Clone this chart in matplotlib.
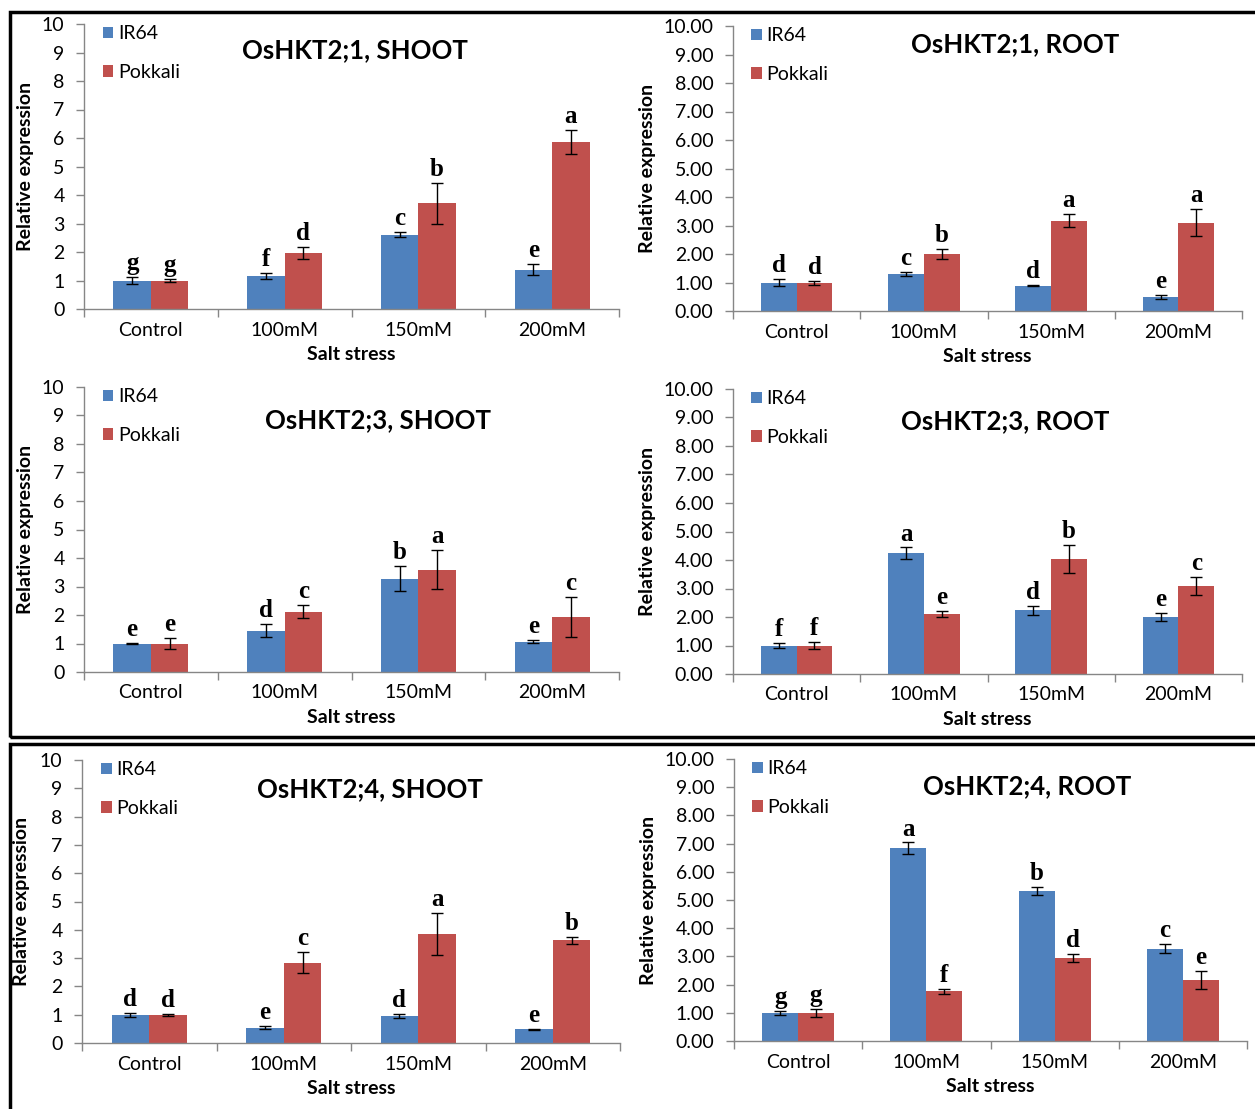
import numpy as np
import matplotlib.pyplot as plt
from matplotlib.patches import Rectangle, Patch

categories = ["Control", "100mM", "150mM", "200mM"]
series = ["IR64", "Pokkali"]
colors = ["#4F81BD", "#C0504D"]

# OsHKT2;1 shoot
hkt21_shoot_ir64 = [1.00, 1.16, 2.61, 1.38]
hkt21_shoot_ir64_err = [0.11, 0.12, 0.10, 0.20]
hkt21_shoot_pok = [1.00, 1.96, 3.71, 5.86]
hkt21_shoot_pok_err = [0.06, 0.20, 0.72, 0.42]
hkt21_shoot_let_ir64 = ["g", "f", "c", "e"]
hkt21_shoot_let_pok = ["g", "d", "b", "a"]

# OsHKT2;1 root
hkt21_root_ir64 = [0.99, 1.29, 0.88, 0.49]
hkt21_root_ir64_err = [0.12, 0.07, 0.02, 0.07]
hkt21_root_pok = [0.99, 2.00, 3.17, 3.10]
hkt21_root_pok_err = [0.07, 0.16, 0.22, 0.48]
hkt21_root_let_ir64 = ["d", "c", "d", "e"]
hkt21_root_let_pok = ["d", "b", "a", "a"]

# OsHKT2;3 shoot
hkt23_shoot_ir64 = [1.00, 1.45, 3.27, 1.07]
hkt23_shoot_ir64_err = [0.02, 0.23, 0.44, 0.04]
hkt23_shoot_pok = [1.00, 2.12, 3.59, 1.93]
hkt23_shoot_pok_err = [0.20, 0.23, 0.69, 0.69]
hkt23_shoot_let_ir64 = ["e", "d", "b", "e"]
hkt23_shoot_let_pok = ["e", "c", "a", "c"]

# OsHKT2;3 root
hkt23_root_ir64 = [1.00, 4.24, 2.23, 2.00]
hkt23_root_ir64_err = [0.09, 0.20, 0.16, 0.15]
hkt23_root_pok = [1.00, 2.11, 4.04, 3.09]
hkt23_root_pok_err = [0.13, 0.10, 0.48, 0.31]
hkt23_root_let_ir64 = ["f", "a", "d", "e"]
hkt23_root_let_pok = ["f", "e", "b", "c"]

# OsHKT2;4 shoot
hkt24_shoot_ir64 = [0.99, 0.54, 0.95, 0.48]
hkt24_shoot_ir64_err = [0.08, 0.05, 0.08, 0.01]
hkt24_shoot_pok = [0.99, 2.84, 3.85, 3.63]
hkt24_shoot_pok_err = [0.02, 0.38, 0.73, 0.12]
hkt24_shoot_let_ir64 = ["d", "e", "d", "e"]
hkt24_shoot_let_pok = ["d", "c", "a", "b"]

# OsHKT2;4 root
hkt24_root_ir64 = [0.99, 6.84, 5.32, 3.28]
hkt24_root_ir64_err = [0.06, 0.20, 0.15, 0.15]
hkt24_root_pok = [0.99, 1.77, 2.95, 2.17]
hkt24_root_pok_err = [0.13, 0.09, 0.14, 0.32]
hkt24_root_let_ir64 = ["g", "a", "b", "c"]
hkt24_root_let_pok = ["g", "f", "d", "e"]

sans = "Lato"
serif = "Liberation Serif"
grey = "#868686"
W, H = 1255, 1109

fig = plt.figure(figsize=(W / 100, H / 100), dpi=100)


def px_axes(left, top, right, bottom):
    # pixel box -> figure fraction
    return fig.add_axes([left / W, 1 - bottom / H, (right - left) / W, (bottom - top) / H])


def draw_panel(ax, ir, ir_err, pok, pok_err, let_ir, let_pok, title, title_pos, fmt):
    x = np.arange(len(categories))
    bw = 0.28
    for vals, errs, lets, off, c in [(ir, ir_err, let_ir, -bw / 2, colors[0]),
                                     (pok, pok_err, let_pok, bw / 2, colors[1])]:
        ax.bar(x + off, vals, bw, color=c, edgecolor="none", zorder=2)
        ax.errorbar(x + off, vals, yerr=errs, fmt="none", ecolor="black",
                    elinewidth=1, capsize=4, capthick=1, zorder=3)
        for xi, v, e, l in zip(x + off, vals, errs, lets):
            ax.annotate(l, (xi, v + e), xytext=(0, 5), textcoords="offset points",
                        ha="center", va="baseline", fontsize=18, fontweight="bold",
                        family=serif)
    ax.set_xlim(-0.5, len(categories) - 0.5)
    ax.set_ylim(0, 10)
    ax.set_yticks(np.arange(0, 11, 1))
    ax.set_yticklabels([fmt.format(v) for v in range(11)], family=sans, fontsize=14)
    ax.set_xticks(x)
    ax.set_xticklabels(categories, family=sans, fontsize=14)
    ax.set_xticks(np.arange(-0.5, len(categories), 1), minor=True)
    ax.tick_params(axis="x", which="major", length=0, pad=9)
    ax.tick_params(axis="x", which="minor", length=6, color=grey, width=1)
    ax.tick_params(axis="y", length=6, color=grey, width=1, pad=8)
    for s in ["top", "right"]:
        ax.spines[s].set_visible(False)
    for s in ["left", "bottom"]:
        ax.spines[s].set_color(grey)
        ax.spines[s].set_linewidth(1)
    ax.set_xlabel("Salt stress", family=sans, fontsize=14, fontweight="bold", labelpad=5.5)
    ax.set_ylabel("Relative expression", family=sans, fontsize=14, fontweight="bold")
    ax.text(title_pos[0], title_pos[1], title, transform=ax.transAxes, ha="center",
            va="center", family=sans, fontsize=18.5, fontweight="bold")
    handles = [Patch(facecolor=c, edgecolor="none") for c in colors]
    ax.legend(handles, series, loc="upper left", bbox_to_anchor=(0.035, 0.995),
              frameon=False, prop={"family": sans, "size": 14},
              handlelength=0.55, handleheight=0.55, handletextpad=0.25,
              labelspacing=1.1, borderaxespad=0, borderpad=0)


ax1 = px_axes(84, 24, 619, 309)
draw_panel(ax1, hkt21_shoot_ir64, hkt21_shoot_ir64_err, hkt21_shoot_pok, hkt21_shoot_pok_err,
           hkt21_shoot_let_ir64, hkt21_shoot_let_pok, "OsHKT2;1, SHOOT", (0.507, 0.909), "{:d}")
ax1.yaxis.set_label_coords(-0.093, 0.5)

ax2 = px_axes(733, 26, 1242, 311)
draw_panel(ax2, hkt21_root_ir64, hkt21_root_ir64_err, hkt21_root_pok, hkt21_root_pok_err,
           hkt21_root_let_ir64, hkt21_root_let_pok, "OsHKT2;1, ROOT", (0.554, 0.937), "{:.2f}")
ax2.yaxis.set_label_coords(-0.152, 0.5)

ax3 = px_axes(84, 387, 619, 672)
draw_panel(ax3, hkt23_shoot_ir64, hkt23_shoot_ir64_err, hkt23_shoot_pok, hkt23_shoot_pok_err,
           hkt23_shoot_let_ir64, hkt23_shoot_let_pok, "OsHKT2;3, SHOOT", (0.55, 0.884), "{:d}")
ax3.yaxis.set_label_coords(-0.093, 0.5)

ax4 = px_axes(733, 389, 1242, 674)
draw_panel(ax4, hkt23_root_ir64, hkt23_root_ir64_err, hkt23_root_pok, hkt23_root_pok_err,
           hkt23_root_let_ir64, hkt23_root_let_pok, "OsHKT2;3, ROOT", (0.534, 0.888), "{:.2f}")
ax4.yaxis.set_label_coords(-0.152, 0.5)

ax5 = px_axes(82, 760, 620, 1043)
draw_panel(ax5, hkt24_shoot_ir64, hkt24_shoot_ir64_err, hkt24_shoot_pok, hkt24_shoot_pok_err,
           hkt24_shoot_let_ir64, hkt24_shoot_let_pok, "OsHKT2;4, SHOOT", (0.535, 0.897), "{:d}")
ax5.yaxis.set_label_coords(-0.097, 0.5)

ax6 = px_axes(734, 759, 1247, 1041)
draw_panel(ax6, hkt24_root_ir64, hkt24_root_ir64_err, hkt24_root_pok, hkt24_root_pok_err,
           hkt24_root_let_ir64, hkt24_root_let_pok, "OsHKT2;4, ROOT", (0.571, 0.904), "{:.2f}")
ax6.yaxis.set_label_coords(-0.15, 0.5)

# black frames around the figure groups
fig.add_artist(Rectangle((9.5 / W, 1 - 737 / H), 1.0, (737 - 12) / H, transform=fig.transFigure,
                         fill=False, edgecolor="black", linewidth=2.5))
fig.add_artist(Rectangle((9.5 / W, -0.1), 1.0, 0.1 + (H - 743.5) / H, transform=fig.transFigure,
                         fill=False, edgecolor="black", linewidth=2.5))

fig.savefig("out.png", dpi=100)
